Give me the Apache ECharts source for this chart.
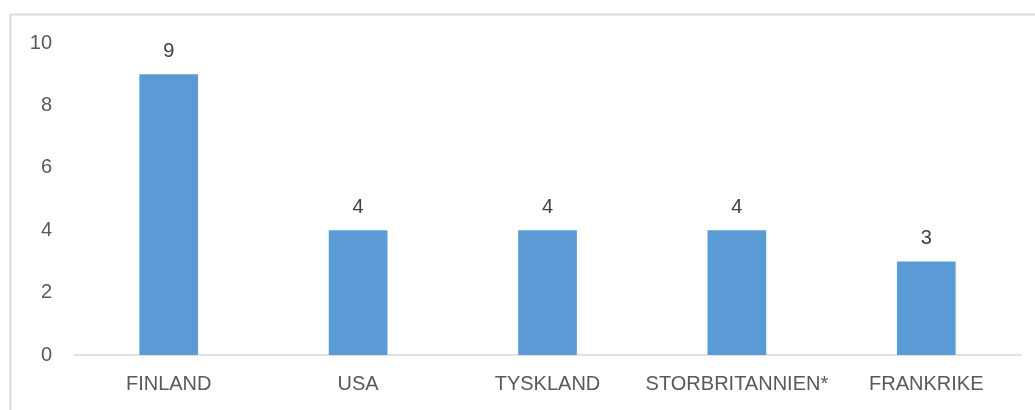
<html>
<head>
<meta charset="utf-8">
<script src="https://cdn.jsdelivr.net/npm/echarts@6/dist/echarts.min.js"></script>
</head>
<body style="margin:0;">
<div id="main" style="width:1035px;height:410px;"></div>
<script>
var countries = ['FINLAND', 'USA', 'TYSKLAND', 'STORBRITANNIEN*', 'FRANKRIKE'];
var counts = [9, 4, 4, 4, 3];
var yTicks = [0, 10, 2];

var chart = echarts.init(document.getElementById('main'));
var font = 'Liberation Sans';
chart.setOption({
    animation: false,
    textStyle: { fontFamily: font },
    graphic: [{
        type: 'rect',
        shape: { x: 10.5, y: 14.5, width: 1100, height: 500 },
        style: { fill: 'none', stroke: '#d9d9d9', lineWidth: 2 }
    }],
    grid: { left: 74, right: 14, top: 43, bottom: 55 },
    xAxis: {
        type: 'category',
        data: countries,
        axisTick: { show: false },
        axisLine: { lineStyle: { color: '#d9d9d9', width: 1.5 } },
        axisLabel: { interval: 0, color: '#595959', fontSize: 20, margin: 19, fontFamily: font }
    },
    yAxis: {
        type: 'value',
        min: yTicks[0], max: yTicks[1], interval: yTicks[2],
        splitLine: { show: false },
        axisLine: { show: false },
        axisTick: { show: false },
        axisLabel: { color: '#595959', fontSize: 20, margin: 22, fontFamily: font }
    },
    series: [{
        type: 'bar',
        data: counts,
        barWidth: '31%',
        itemStyle: { color: '#5b9bd5' },
        label: { show: true, position: 'top', distance: 13, color: '#404040', fontSize: 20, fontFamily: font }
    }]
});
</script>
</body>
</html>
